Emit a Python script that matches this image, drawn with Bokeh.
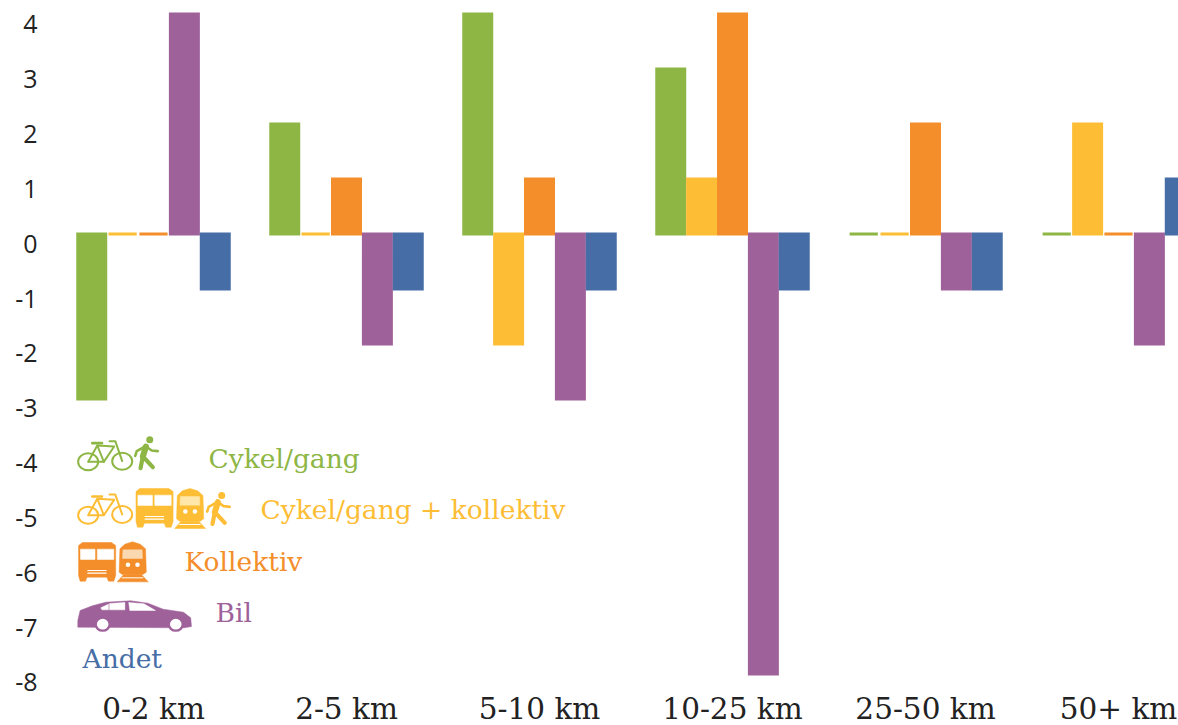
from bokeh.plotting import figure
from bokeh.models import Range1d, LinearAxis, FixedTicker, ColumnDataSource
from bokeh.core.properties import value
from bokeh.embed import file_html
from bokeh.resources import INLINE

categories = ["0-2 km", "2-5 km", "5-10 km", "10-25 km", "25-50 km", "50+ km"]
cykel_gang = [-3, 2, 4, 3, 0, 0]
cykel_gang_kollektiv = [0, 0, -2, 1, 0, 2]
kollektiv = [0, 1, 1, 4, 2, 0]
bil = [4, -2, -3, -8, -1, -2]
andet = [-1, -1, -1, -1, -1, 1]
y_ticks = [-8, -7, -6, -5, -4, -3, -2, -1, 0, 1, 2, 3, 4]
legend_labels = ["Cykel/gang", "Cykel/gang + kollektiv", "Kollektiv", "Bil", "Andet"]

GREEN, YELLOW, ORANGE, PURPLE, BLUE = "#8DB645", "#FDBD35", "#F38E2B", "#9E6199", "#466DA5"
series = [(cykel_gang, GREEN), (cykel_gang_kollektiv, YELLOW), (kollektiv, ORANGE), (bil, PURPLE), (andet, BLUE)]

W, H = 1178, 725
FL, FR, FT, FB = 45, 1178, 0, 725    # frame edges in window pixels
CX0, UX = 153.0, 193.0               # first group centre, group pitch
Z, UY = 233.5, 55.0                  # bar zero line, px per unit
LZ, LU = 243.3, 54.83                # tick labels sit a little lower than the bars
AXIS_Y = 687                         # where the category axis sits

p = figure(width=W, height=H, output_backend="svg", toolbar_location=None,
           x_range=Range1d((FL - CX0) / UX, (FR - CX0) / UX),
           y_range=Range1d((Z - FB) / UY, (Z - FT) / UY),
           x_axis_location=None, y_axis_location=None,
           min_border_left=FL, min_border_right=0, min_border_top=0, min_border_bottom=0)
p.extra_y_ranges = {"labels": Range1d((LZ - FB) / LU, (LZ - FT) / LU),
                    "px": Range1d(FB, FT)}
p.extra_x_ranges = {"px": Range1d(FL, FR)}
p.outline_line_color = None
p.background_fill_color = "white"
p.grid.visible = False

# x axis
ax = LinearAxis(ticker=FixedTicker(ticks=list(range(len(categories)))),
                fixed_location=(Z - AXIS_Y) / UY)
ax.major_label_overrides = {i: c for i, c in enumerate(categories)}
ax.axis_line_color = None
ax.major_tick_line_color = None
ax.minor_tick_line_color = None
ax.major_tick_out = 0
ax.major_tick_in = 0
ax.major_label_text_font = "DejaVu Serif"
ax.major_label_text_font_size = "29.5px"
ax.major_label_text_color = "#222222"
ax.major_label_standoff = 4
p.add_layout(ax, "below")

# y axis
ay = LinearAxis(y_range_name="labels", ticker=FixedTicker(ticks=y_ticks))
ay.major_label_overrides = {v: str(v) for v in y_ticks}
ay.axis_line_color = None
ay.major_tick_line_color = None
ay.minor_tick_line_color = None
ay.major_tick_out = 0
ay.major_tick_in = 0
ay.major_label_text_font = "Open Sans"
ay.major_label_text_font_size = "25px"
ay.major_label_text_color = "#222222"
ay.major_label_standoff = 8
p.add_layout(ay, "left")

# bars
PITCH = 0.16
for j, (vals, col) in enumerate(series):
    xs = [i + (j - 2) * PITCH for i in range(len(vals))]
    nz = [(x, v) for x, v in zip(xs, vals) if v != 0]
    p.vbar(x=[a for a, _ in nz], top=[b for _, b in nz], bottom=0, width=0.145,
           fill_color=col, line_color=col, line_width=3, line_join="miter")
    zs = [x for x, v in zip(xs, vals) if v == 0]
    if zs:
        p.segment(x0=[x - 0.073 for x in zs], x1=[x + 0.073 for x in zs],
                  y0=[0] * len(zs), y1=[0] * len(zs), line_color=col, line_width=3)

# ---- legend, drawn in window pixels ----
SX = 2.613
def X(z): return z / SX
def Y(z): return 420 + z / 3.0
PX = dict(x_range_name="px", y_range_name="px")

def poly(pts, col, dx=0, dy=0):
    p.patch([X(a + dx) for a, b in pts], [Y(b + dy) for a, b in pts], fill_color=col, line_color=col, line_width=0.5, **PX)

def stroke(pts, col, w, dx=0, dy=0):
    p.line([X(a + dx) for a, b in pts], [Y(b + dy) for a, b in pts], line_color=col, line_width=w,
           line_join="round", line_cap="round", **PX)

def ring(cx, cy, w_px, h_px, col, lw, fill=None):
    p.ellipse([X(cx)], [Y(cy)], width=w_px, height=h_px, fill_color=fill, line_color=col, line_width=lw, **PX)

def dot(cx, cy, d, col):
    p.ellipse([X(cx)], [Y(cy)], width=d, height=d, fill_color=col, line_color=None, **PX)

def bike(col, dy):
    ring(229, 124 + dy, 20, 17, col, 2)
    ring(318, 122 + dy, 20, 17, col, 2)
    stroke([(229, 124), (253, 75), (297, 78), (270, 124), (229, 124)], col, 2, 0, dy)
    stroke([(253, 75), (270, 124)], col, 2, 0, dy)
    stroke([(318, 122), (300, 62), (285, 62)], col, 2, 0, dy)
    stroke([(240, 68), (265, 68)], col, 2.6, 0, dy)

def walker(col, dx, dy):
    dot(390 + dx, 58 + dy, 7, col)
    stroke([(380, 78), (372, 108)], col, 6, dx, dy)
    stroke([(372, 108), (366, 143)], col, 4.2, dx, dy)
    stroke([(372, 108), (398, 140)], col, 4.2, dx, dy)
    stroke([(380, 78), (395, 90), (411, 92)], col, 2.6, dx, dy)
    stroke([(378, 78), (356, 92), (352, 106)], col, 2.6, dx, dy)

def bus(col, dx, dy):
    poly([(204, 375), (214, 366), (290, 366), (301, 375), (301, 465), (296, 482), (282, 482), (278, 470),
          (226, 470), (222, 482), (208, 482), (204, 465)], col, dx, dy)
    poly([(209, 386), (247, 386), (247, 417), (209, 417)], "white", dx, dy)
    poly([(253, 386), (296, 386), (296, 417), (253, 417)], "white", dx, dy)
    stroke([(228, 450), (276, 450)], "white", 1.2, dx, dy)
    stroke([(228, 458), (276, 458)], "white", 1.2, dx, dy)

def train(col, dx, dy):
    poly([(312, 385), (325, 371), (345, 364), (365, 371), (379, 385), (381, 455), (372, 462), (318, 462), (310, 455)], col, dx, dy)
    poly([(320, 388), (370, 388), (371, 414), (319, 414)], "#FBD9B0" if col == ORANGE else "#FEE7A8", dx, dy)
    dot(333 + dx, 433 + dy, 4.5, "white")
    dot(358 + dx, 433 + dy, 4.5, "white")
    poly([(322, 462), (368, 462), (386, 484), (305, 484)], col, dx, dy)
    stroke([(318, 472), (372, 472)], "white", 1.0, dx, dy)

# row 1
bike(GREEN, 0)
walker(GREEN, 0, 0)
# row 2
bike(YELLOW, 160)
bus(YELLOW, 150, -162)
train(YELLOW, 150, -160)
walker(YELLOW, 188, 167)
# row 3
bus(ORANGE, 0, 0)
train(ORANGE, 0, 0)
# row 4
poly([(202, 600), (208, 570), (240, 556), (275, 545), (340, 541), (385, 548), (425, 566), (478, 575), (497, 592),
      (499, 618), (480, 622), (202, 620)], PURPLE)
poly([(285, 549), (325, 546), (325, 568), (285, 568)], "white")
poly([(335, 546), (375, 550), (405, 570), (338, 570)], "white")
poly([(262, 562), (282, 551), (282, 568), (265, 568)], "white")
ring(267, 611, 14, 13, PURPLE, 2.4, "white")
ring(458, 611, 14, 13, PURPLE, 2.4, "white")

# legend text
label_x = [208, 260, 184, 215, 82]
label_y = [458, 509, 561, 612, 658]
label_c = [GREEN, YELLOW, ORANGE, PURPLE, BLUE]
src = ColumnDataSource(dict(x=label_x, y=label_y, t=legend_labels, c=label_c))
p.text(x="x", y="y", text="t", text_color="c", source=src, text_font=value("DejaVu Serif"),
       text_font_size="26.5px", text_baseline="middle", text_align="left", **PX)

open("out.html", "w").write(file_html(p, INLINE))
